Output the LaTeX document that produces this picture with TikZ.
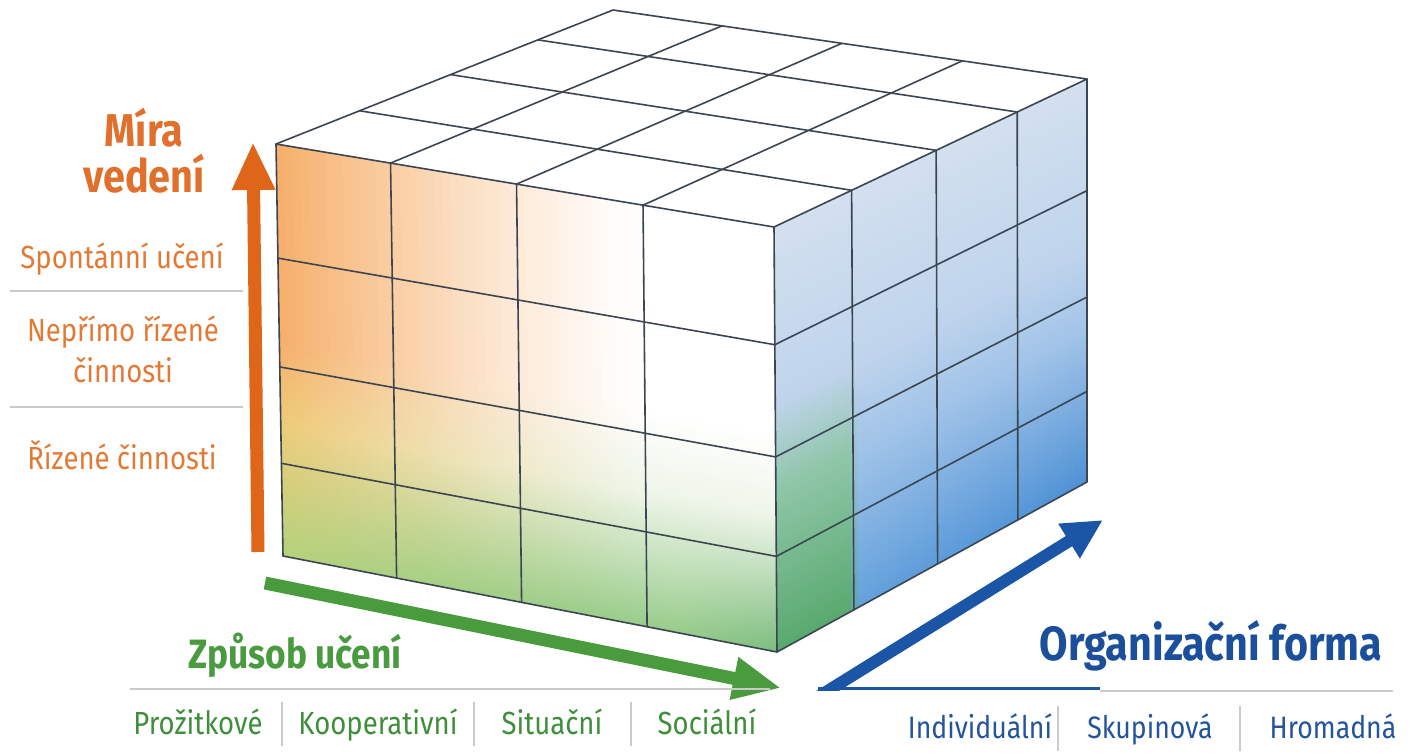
\documentclass[tikz,border=0pt]{standalone}
\usepackage{fontspec}
\setmainfont{Fira Sans}[FakeStretch=0.86]
\usetikzlibrary{calc,arrows.meta}
\definecolor{gridc}{HTML}{3C4652}
\definecolor{orA}{HTML}{DF6518}
\definecolor{grA}{HTML}{4A9A3E}
\definecolor{blA}{HTML}{1A55A6}
\definecolor{sepc}{HTML}{C8CACC}
\definecolor{txOr}{HTML}{E27A36}
\definecolor{hdOr}{HTML}{E0702C}
\definecolor{txGr}{HTML}{3E8E3A}
\definecolor{hdGr}{HTML}{4A9A40}
\definecolor{txBl}{HTML}{23549E}
\definecolor{hdBl}{HTML}{1B4F9C}
\definecolor{faceOr}{HTML}{F6AF6A}
\definecolor{faceYe}{HTML}{EECB78}
\definecolor{facePale}{HTML}{EEF5E8}
\definecolor{faceYG}{HTML}{B4D27C}
\definecolor{faceGr}{HTML}{97CC8A}
\definecolor{faceGrD}{HTML}{58A96E}
\definecolor{faceTeal}{HTML}{8FC6A8}
\definecolor{faceBlM}{HTML}{A2C4E8}
\definecolor{faceBlL}{HTML}{6AA6DE}
\definecolor{faceBlD}{HTML}{4E91D5}
\definecolor{rMid}{HTML}{BFD4EC}
\definecolor{rTop}{HTML}{D3E0EF}
\colorlet{cA}{white}
\colorlet{cC}{white}
\colorlet{cD}{white}
\colorlet{rD}{white}
\colorlet{rM}{white}
\pgfdeclareverticalshading[cA,cC,cD]{fstrip}{100bp}{color(0bp)=(cD); color(25bp)=(cD); color(41bp)=(cC); color(51bp)=(cA); color(75bp)=(cA); color(100bp)=(cA)}
\pgfdeclareverticalshading[rD,rM]{rstrip}{100bp}{color(0bp)=(rD); color(25bp)=(rD); color(44bp)=(rM); color(54bp)=(rMid); color(75bp)=(rTop); color(100bp)=(rTop)}
\tikzset{
  gridline/.style={draw=gridc, line width=1.6pt, line join=round, line cap=round},
  sepline/.style={draw=sepc, line width=1.2pt},
  lbl/.style={anchor=base, inner sep=0pt, font=\fontsize{32}{37}\selectfont},
  lblr/.style={anchor=base, inner sep=0pt, font=\fontsize{31}{36}\selectfont},
  hdr/.style={anchor=base, inner sep=0pt, font=\bfseries\fontsize{46}{51}\selectfont},
}
\begin{document}
\begin{tikzpicture}[x=1pt,y=-1pt]
\useasboundingbox (0,0) rectangle (1416,753);
% cube corners
\coordinate (FTL) at (276,144);
\coordinate (FTR) at (774,227);
\coordinate (FBL) at (283,556);
\coordinate (FBR) at (777,652);
\coordinate (BTL) at (613,10);
\coordinate (BTR) at (1087,79);
\coordinate (BBR) at (1087,482);
% top face
\fill[white] (FTL) -- (FTR) -- (BTR) -- (BTL) -- cycle;
% front face strips
\foreach \i in {0,...,59}{
  \pgfmathsetmacro{\ua}{\i/60}
  \pgfmathsetmacro{\ub}{min(1,(\i+1.6)/60)}
  \pgfmathsetmacro{\um}{(\i+0.5)/60}
  \pgfmathsetmacro{\oo}{100*(max(0,1-\um/0.75))^1.3}
  \pgfmathsetmacro{\ee}{max(0,(\um-0.8)/0.2)*45}
  \colorlet{cA}{faceOr!\oo!white}
  \colorlet{cC}{faceYe!\oo!facePale}
  \colorlet{cDa}{faceYG!\oo!faceGr}
  \colorlet{cD}{faceGrD!\ee!cDa}
  \shade[shading=fstrip] ($(FTL)!\ua!(FTR)$) -- ($(FTL)!\ub!(FTR)$) -- ($(FBL)!\ub!(FBR)$) -- ($(FBL)!\ua!(FBR)$) -- cycle;
}
% right face strips
\foreach \i in {0,...,49}{
  \pgfmathsetmacro{\wa}{\i/50}
  \pgfmathsetmacro{\wb}{min(1,(\i+1.6)/50)}
  \pgfmathsetmacro{\wm}{(\i+0.5)/50}
  \pgfmathsetmacro{\gg}{max(0,min(100,100*(0.27-\wm)/0.04))}
  \pgfmathsetmacro{\bb}{100*\wm}
  \colorlet{rBot}{faceBlD!\bb!faceBlL}
  \colorlet{rD}{faceGrD!\gg!rBot}
  \colorlet{rM}{faceTeal!\gg!faceBlM}
  \shade[shading=rstrip] ($(FTR)!\wa!(BTR)$) -- ($(FTR)!\wb!(BTR)$) -- ($(FBR)!\wb!(BBR)$) -- ($(FBR)!\wa!(BBR)$) -- cycle;
}
% grid lines
\foreach \f in {0.23,0.483,0.737}{
  \draw[gridline] ($(FTL)!\f!(FTR)$) -- ($(FBL)!\f!(FBR)$);
  \draw[gridline] ($(FTL)!\f!(FTR)$) -- ($(BTL)!\f!(BTR)$);
}
\foreach \g in {0.277,0.541,0.775}{
  \draw[gridline] ($(FTL)!\g!(FBL)$) -- ($(FTR)!\g!(FBR)$);
  \draw[gridline] ($(FTR)!\g!(FBR)$) -- ($(BTR)!\g!(BBR)$);
}
\foreach \h in {0.248,0.518,0.777}{
  \draw[gridline] ($(FTL)!\h!(BTL)$) -- ($(FTR)!\h!(BTR)$);
  \draw[gridline] ($(FTR)!\h!(BTR)$) -- ($(FBR)!\h!(BBR)$);
}
\draw[gridline] (FTL) -- (FTR) -- (FBR) -- (FBL) -- cycle;
\draw[gridline] (FTL) -- (BTL) -- (BTR) -- (FTR);
\draw[gridline] (BTR) -- (BBR) -- (FBR);
% axes arrows
\coordinate (oS) at (258,552);
\coordinate (oT) at (253,142);
\draw[orA, line width=13pt, -{Triangle[width=40pt,length=48pt]}] (oS) -- (oT);
\coordinate (gS) at (265,583);
\coordinate (gT) at (781,688);
\draw[grA, line width=13pt, -{Triangle[width=40pt,length=48pt]}] (gS) -- (gT);
\coordinate (bS) at (813,700);
\coordinate (bT) at (1103,520);
\coordinate (bL) at (818,688);
\coordinate (bR) at (1100,688);
\begin{scope}
  \clip (0,0) rectangle (1416,690);
  \draw[blA, line width=12pt, -{Triangle[width=38pt,length=40pt]}] (bS) -- (bT);
\end{scope}
\draw[blA, line width=3pt] (bL) -- (bR);
% separators
\draw[sepline] (10,291) -- (243,291);
\draw[sepline] (10,407) -- (243,407);
\draw[sepline] (130,689) -- (770,689);
\draw[sepline] (1100,691) -- (1393,691);
\foreach \x in {282,474,631}{\draw[sepline] (\x,702) -- (\x,746);}
\foreach \x in {1058,1240}{\draw[sepline] (\x,706) -- (\x,751);}
% labels left
\node[hdr, text=hdOr] (hMira) at (144,146) {Míra};
\node[hdr, text=hdOr] (hVed) at (144,192) {vedení};
\node[lbl, text=txOr] (lSp) at (122,268) {Spontánní učení};
\node[lbl, text=txOr] (lNe) at (123,341) {Nepřímo řízené};
\node[lbl, text=txOr] (lCi) at (123,382) {činnosti};
\node[lbl, text=txOr] (lRi) at (122,469) {Řízené činnosti};
% bottom labels
\node[hdr, text=hdGr, font=\bfseries\fontsize{41}{46}\selectfont] (hZp) at (295,668) {Způsob učení};
\node[hdr, text=hdBl, font=\bfseries\fontsize{48}{53}\selectfont] (hOr) at (1211,660) {Organizační forma};
\node[lbl, text=txGr] (lPr) at (198,734) {Prožitkové};
\node[lbl, text=txGr] (lKo) at (378,734) {Kooperativní};
\node[lbl, text=txGr] (lSi) at (552,734) {Situační};
\node[lbl, text=txGr] (lSo) at (707,734) {Sociální};
\node[lblr, text=txBl] (lIn) at (980,738) {Individuální};
\node[lblr, text=txBl] (lSk) at (1150,738) {Skupinová};
\node[lblr, text=txBl] (lHr) at (1333,738) {Hromadná};
\end{tikzpicture}
\end{document}
